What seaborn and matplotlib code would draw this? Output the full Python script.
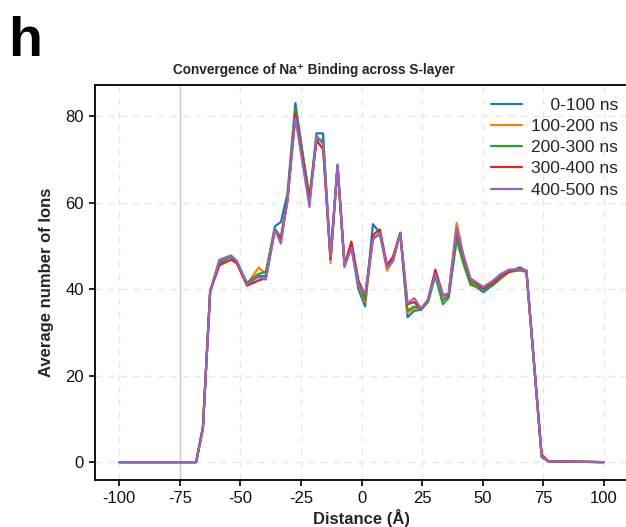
import numpy as np
import pandas as pd
import matplotlib
matplotlib.use("Agg")
import matplotlib.pyplot as plt
import seaborn as sns

# Distance grid (Å) and average Na+ counts per 100 ns window
distance = [-100, -68.3, -65.5, -62.5, -58.7, -53.9, -51.5, -47.3, -42.5, -39.5,
            -35.8, -33.3, -30.6, -27.3, -21.5, -18.6, -15.9, -12.8, -9.9, -7.0,
            -4.2, -1.3, 1.5, 4.7, 7.6, 10.5, 13.0, 16.0, 19.0, 21.8,
            24.6, 27.4, 30.5, 33.6, 36.0, 39.3, 42.0, 45.0, 50.3, 54.4,
            57.5, 61.0, 65.4, 68.1, 74.4, 77.1, 100]

win_0_100 = [0, 0, 8.0, 39.5, 46.0, 47.5, 46.5, 41.0, 43.0, 43.0,
             54.5, 55.5, 62.0, 83.0, 60.5, 76.0, 76.0, 47.0, 68.5, 45.5,
             50.0, 40.0, 36.0, 55.0, 53.0, 45.0, 46.5, 53.0, 33.5, 35.0,
             35.2, 37.0, 43.5, 37.5, 38.5, 53.0, 47.0, 41.5, 39.3, 41.0,
             42.5, 44.0, 44.5, 44.3, 1.2, 0.2, 0]
win_100_200 = [0, 0, 8.0, 39.5, 46.5, 47.5, 46.0, 41.0, 45.0, 43.5,
               54.0, 51.5, 60.5, 81.5, 60.5, 74.5, 74.0, 46.0, 68.5, 45.0,
               50.5, 41.0, 37.0, 51.5, 53.0, 44.3, 46.5, 53.0, 34.5, 35.5,
               35.5, 37.0, 44.0, 38.0, 39.0, 55.3, 48.0, 42.0, 40.0, 41.5,
               43.0, 44.0, 44.5, 44.2, 1.5, 0.2, 0]
win_200_300 = [0, 0, 8.0, 39.5, 46.5, 47.5, 46.0, 41.5, 43.5, 44.0,
               54.0, 52.0, 60.5, 81.5, 61.5, 74.5, 74.5, 47.0, 68.5, 45.5,
               50.5, 41.5, 37.5, 52.0, 52.5, 45.5, 47.0, 53.0, 35.0, 36.0,
               35.5, 37.0, 43.0, 36.5, 38.0, 51.4, 46.0, 41.0, 40.0, 41.0,
               42.5, 44.0, 44.3, 44.0, 1.2, 0.2, 0]
win_300_400 = [0, 0, 8.0, 39.5, 45.5, 46.8, 46.0, 40.8, 42.0, 42.5,
               53.5, 51.5, 60.5, 80.5, 60.5, 74.3, 72.4, 47.0, 68.5, 45.5,
               51.0, 42.0, 38.5, 52.5, 53.8, 45.5, 47.5, 53.0, 36.5, 37.0,
               35.3, 37.5, 44.5, 38.7, 38.7, 53.5, 47.5, 42.2, 40.2, 41.5,
               43.0, 44.0, 45.0, 44.2, 1.8, 0.2, 0]
win_400_500 = [0, 0, 7.5, 39.5, 46.8, 47.8, 46.5, 41.2, 42.8, 42.2,
               53.8, 50.5, 60.5, 79.5, 59.0, 75.5, 73.5, 47.5, 68.8, 45.2,
               49.5, 41.0, 38.8, 51.5, 53.0, 45.0, 46.5, 53.0, 36.7, 37.9,
               35.5, 37.5, 43.5, 38.5, 39.0, 54.2, 48.0, 42.5, 40.5, 42.0,
               43.5, 44.5, 44.6, 44.3, 1.3, 0.2, 0]

windows = ["0-100 ns", "100-200 ns", "200-300 ns", "300-400 ns", "400-500 ns"]
series = [win_0_100, win_100_200, win_200_300, win_300_400, win_400_500]

x_ticks = [-100, -75, -50, -25, 0, 25, 50, 75, 100]
y_ticks = [0, 20, 40, 60, 80]

df = pd.concat(
    [pd.DataFrame({"Distance": distance, "Ions": vals, "Window": name})
     for name, vals in zip(windows, series)],
    ignore_index=True,
)

sns.set_style("white")
plt.rcParams["font.family"] = ["Liberation Sans", "DejaVu Sans"]
plt.rcParams["axes.unicode_minus"] = False

fig = plt.figure(figsize=(6.26, 5.27), dpi=100)
ax = fig.add_axes([0.152, 0.089, 0.851, 0.7495])

ax.axvline(-75, color="#c8c8c8", lw=1.0, zorder=1)

sns.lineplot(data=df, x="Distance", y="Ions", hue="Window",
             palette=sns.color_palette("tab10", 5), lw=1.6, ax=ax,
             sort=False, zorder=3)

ax.set_xticks(x_ticks)
ax.set_yticks(y_ticks)
ax.set_xlim(-110, 110)
ax.set_ylim(-4.15, 87.15)
ax.grid(True, ls=(0, (5, 5)), color="#e6e6e6", lw=0.9, zorder=0)
ax.set_axisbelow(True)

for side in ["left", "bottom", "top", "right"]:
    ax.spines[side].set_color("#111111")
    ax.spines[side].set_linewidth(1.4)

ax.tick_params(axis="both", which="major", direction="out", length=4, width=1.3,
               labelsize=12, color="#111111", labelcolor="#111111",
               left=True, bottom=True, pad=4)

ax.set_xlabel("Distance (Å)", fontsize=12, fontweight="bold", labelpad=2)
ax.set_ylabel("Average number of Ions", fontsize=12, fontweight="bold", labelpad=8)
ax.set_title("Convergence of Na\u207a Binding across S-layer", fontsize=9.8,
             fontweight="bold", x=0.41, pad=8)

handles, labels = ax.get_legend_handles_labels()
labels = ["    0-100 ns", "100-200 ns", "200-300 ns", "300-400 ns", "400-500 ns"]
ax.legend(handles, labels, loc="upper right", bbox_to_anchor=(1.011, 1.008),
          frameon=False, fontsize=12.5, handlelength=1.8, handletextpad=0.5,
          labelspacing=0.35)

fig.text(0.013, 0.97, "h", fontsize=40, fontweight="bold", va="top", ha="left",
         color="black")

fig.savefig("out.png", dpi=100)
